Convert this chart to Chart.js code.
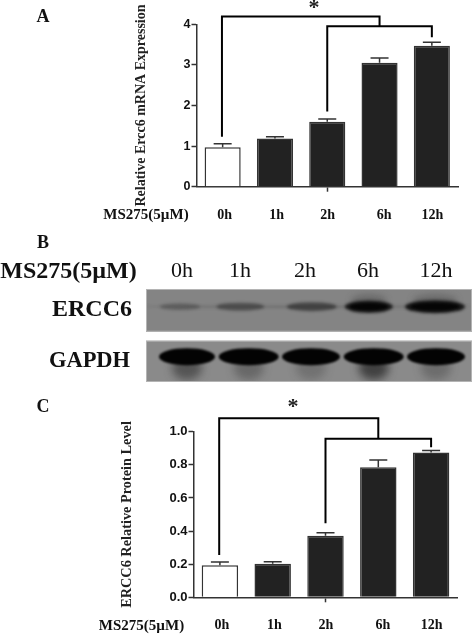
<!DOCTYPE html>
<html>
<head>
<meta charset="utf-8">
<script src="https://cdn.jsdelivr.net/npm/chart.js@4/dist/chart.umd.min.js"></script>
<style>
  html, body { margin: 0; padding: 0; background: #fff; overflow: hidden; }
  #page { position: relative; width: 472px; height: 635px; filter: blur(0.35px); }
  canvas { position: absolute; left: 0; }
  .t { position: absolute; transform: translate(-50%, -50%); white-space: nowrap;
       font-family: "Liberation Serif", serif; color: #111; line-height: 1; }
  .b { font-weight: bold; }
</style>
</head>
<body>
<div id="page">
  <canvas id="chartA" style="top:0"></canvas>
  <canvas id="blot" style="top:285px"></canvas>
  <canvas id="chartC" style="top:390px"></canvas>

  <div class="t b" style="left:43px;top:16px;font-size:18px">A</div>
  <div class="t b" style="left:43px;top:242px;font-size:18px">B</div>
  <div class="t b" style="left:43px;top:406px;font-size:18px">C</div>

  <div class="t b" style="left:68.5px;top:270px;font-size:24px">MS275(5µM)</div>
  <div class="t" style="left:182px;top:270px;font-size:22px">0h</div>
  <div class="t" style="left:240px;top:270px;font-size:22px">1h</div>
  <div class="t" style="left:305px;top:270px;font-size:22px">2h</div>
  <div class="t" style="left:368px;top:270px;font-size:22px">6h</div>
  <div class="t" style="left:436px;top:270px;font-size:22px">12h</div>
  <div class="t b" style="left:92px;top:308px;font-size:24px">ERCC6</div>
  <div class="t b" style="left:89.5px;top:360px;font-size:22.5px">GAPDH</div>
</div>

<script>
const hours = ['0h', '1h', '2h', '6h', '12h'];
const doseLabel = 'MS275(5µM)';

// panel A
const mrnaMean = [0.97, 1.19, 1.60, 3.05, 3.47];
const mrnaTop = [1.06, 1.23, 1.67, 3.17, 3.56];
const mrnaTicks = [0, 1, 2, 3, 4];

// panel C
const proteinMean = [0.193, 0.203, 0.372, 0.785, 0.875];
const proteinTop = [0.213, 0.215, 0.39, 0.829, 0.887];
const proteinTicks = [0, 0.2, 0.4, 0.6, 0.8, 1.0];

// panel B band strength per lane, 0..1
const erccBands = [0.3, 0.45, 0.55, 0.95, 1];
const gapdhBands = [1, 1, 1, 1, 1];
const gapdhSmear = [0.55, 0.35, 0.25, 0.75, 0.3];

const DARK = '#222';
const LINE = '#333';

// error caps, brackets, star and the hour labels under the axis
function panelPlugin(opts) {
  return {
    id: 'panel',
    afterDatasetsDraw(chart) {
      const { ctx, scales: { x, y } } = chart;
      ctx.save();

      // error bars (upper only)
      ctx.strokeStyle = LINE;
      ctx.lineWidth = 1.5;
      opts.tops.forEach((v, i) => {
        const px = x.getPixelForValue(i);
        ctx.beginPath();
        ctx.moveTo(px, y.getPixelForValue(opts.means[i]));
        ctx.lineTo(px, y.getPixelForValue(v));
        ctx.moveTo(px - 9, y.getPixelForValue(v));
        ctx.lineTo(px + 9, y.getPixelForValue(v));
        ctx.stroke();
      });

      // significance brackets
      ctx.strokeStyle = '#000';
      ctx.lineWidth = 2;
      const b = opts.bracket;
      const path = (i0, v0, top, i1, v1) => {
        ctx.beginPath();
        ctx.moveTo(x.getPixelForValue(i0) + (i0 === 0 ? -0.7 : 0), y.getPixelForValue(v0));
        ctx.lineTo(x.getPixelForValue(i0) + (i0 === 0 ? -0.7 : 0), y.getPixelForValue(top));
        ctx.lineTo(x.getPixelForValue(i1), y.getPixelForValue(top));
        ctx.lineTo(x.getPixelForValue(i1), y.getPixelForValue(v1));
        ctx.stroke();
      };
      path(0, b.foot0, b.outer, 3, b.inner);
      path(2, b.foot2, b.inner, 4, b.foot4);

      ctx.fillStyle = '#222';
      ctx.textAlign = 'center';
      ctx.textBaseline = 'middle';
      ctx.font = 'bold 22px "Liberation Serif"';
      ctx.fillText('*', opts.starX, opts.starY);

      // hour labels, the 6h one sits a bit right of its bar in the original
      const nudge = [2, 1.7, 0.5, 4.6, 0.5];
      ctx.fillStyle = '#111';
      ctx.font = 'bold 14px "Liberation Serif"';
      hours.forEach((h, i) => ctx.fillText(h, x.getPixelForValue(i) + nudge[i], opts.labelY));
      ctx.font = 'bold 15px "Liberation Serif"';
      ctx.fillText(doseLabel, opts.doseX, opts.labelY);
      ctx.restore();
    }
  };
}

function barChart(id, h, opts) {
  const el = document.getElementById(id);
  el.style.width = '472px';
  el.style.height = h + 'px';
  el.width = 472;
  el.height = h;
  return new Chart(el, {
    type: 'bar',
    data: {
      labels: hours,
      datasets: [{
        data: opts.means,
        backgroundColor: ['#fff', DARK, DARK, DARK, DARK],
        borderColor: LINE,
        borderWidth: 1.5,
        barPercentage: 0.69,
        categoryPercentage: 1
      }]
    },
    options: {
      responsive: false,
      animation: false,
      devicePixelRatio: 1,
      layout: { padding: { top: opts.top, right: opts.right, bottom: opts.bottom, left: 0 } },
      plugins: { legend: { display: false }, tooltip: { enabled: false } },
      scales: {
        x: {
          grid: {
            display: true, drawOnChartArea: false, tickLength: 5, offset: false,
            tickColor: c => (c.index === 2 ? LINE : 'transparent'),
            tickWidth: 1.5
          },
          border: { color: LINE, width: 1.5 },
          ticks: { display: false },
          afterFit(s) { s.height = 5; }
        },
        y: {
          min: 0,
          max: opts.ticks[opts.ticks.length - 1],
          afterBuildTicks(s) { s.ticks = opts.ticks.map(v => ({ value: v })); },
          grid: { drawOnChartArea: false, tickLength: 5, tickColor: LINE, tickWidth: 1.5 },
          border: { color: LINE, width: 1.5 },
          ticks: {
            color: '#111',
            padding: 1,
            font: { family: '"Liberation Sans"', weight: 'bold', size: opts.tickSize },
            callback: opts.fmt
          },
          title: {
            display: true,
            text: opts.title,
            color: '#222',
            padding: { top: opts.titlePad, bottom: 0 },
            font: { family: '"Liberation Serif"', weight: 'bold', size: opts.titleSize }
          },
          afterFit(s) { s.width = opts.axisW; }
        }
      }
    },
    plugins: [panelPlugin(opts)]
  });
}

barChart('chartA', 235, {
  means: mrnaMean, tops: mrnaTop, ticks: mrnaTicks,
  top: 24.3, right: 14, bottom: 43.3, axisW: 196.5,
  tickSize: 12.5, title: 'Relative Ercc6 mRNA Expression', titlePad: 133, titleSize: 14,
  fmt: v => String(v),
  bracket: { outer: 4.19, inner: 3.95, foot0: 1.23, foot2: 1.85, foot4: 3.68 },
  starX: 314, starY: 8, labelY: 215, doseX: 146
});

barChart('chartC', 245, {
  means: proteinMean, tops: proteinTop, ticks: proteinTicks,
  top: 41.7, right: 14.5, bottom: 32.7, axisW: 193.5,
  tickSize: 13, title: 'ERCC6 Relative Protein Level', titlePad: 119, titleSize: 14.3,
  fmt: v => v.toFixed(1),
  bracket: { outer: 1.081, inner: 0.958, foot0: 0.255, foot2: 0.447, foot4: 0.906 },
  starX: 293, starY: 17, labelY: 235.7, doseX: 141.5
});

// western blot strips, drawn on hidden axes so the lanes come from the category scale
const blotPlugin = {
  id: 'blotStrips',
  beforeDraw(chart) {
    const { ctx, scales: { x } } = chart;
    const blob = (cx, cy, rx, ry, blur, color) => {
      ctx.filter = 'blur(' + blur + 'px)';
      ctx.fillStyle = color;
      ctx.beginPath();
      ctx.ellipse(cx, cy, rx, ry, 0, 0, Math.PI * 2);
      ctx.fill();
    };
    const frame = (top, h, fill) => {
      ctx.fillStyle = fill;
      ctx.fillRect(146, top, 326, h);
      ctx.strokeStyle = '#b4b4b4';
      ctx.lineWidth = 1;
      ctx.strokeRect(146.5, top + 0.5, 325, h - 1);
      ctx.beginPath();
      ctx.rect(147, top + 1, 324, h - 2);
      ctx.clip();
    };

    // ERCC6
    ctx.save();
    frame(4, 42.7, '#848484');
    const erccShift = [-1.4, -4, 4.7, -1, 2.4];
    const erccW = [20, 24, 25, 24, 30];
    blob(308, 21.7, 165, 1, 1.5, 'rgba(60,60,60,0.35)');
    erccBands.forEach((s, i) => {
      const cx = x.getPixelForValue(i) + erccShift[i];
      if (s > 0.9) blob(cx, 16, erccW[i] * 0.75, 7, 3, 'rgba(60,60,60,0.35)');
      blob(cx, 21.7, erccW[i], 2 + s * 4.5, 1.6, 'rgba(5,5,5,' + s * 0.85 + ')');
      if (s > 0.9) blob(cx, 21.7, erccW[i] * 0.8, 3.5, 1, '#050505');
    });
    ctx.restore();

    // GAPDH
    ctx.save();
    frame(55.7, 41.3, '#8a8a8a');
    const gapdhShift = [5.6, 4.5, 4, 3.9, 3.4];
    const gapdhW = [28, 30, 29, 30, 29];
    gapdhBands.forEach((s, i) => {
      const cx = x.getPixelForValue(i) + gapdhShift[i];
      blob(cx, 83, 15, 12, 4, 'rgba(40,40,40,' + gapdhSmear[i] + ')');
      blob(cx, 71.7, gapdhW[i], 8.5, 1.3, 'rgba(3,3,3,' + s + ')');
    });
    ctx.restore();
  }
};

const blotEl = document.getElementById('blot');
blotEl.style.width = '472px';
blotEl.style.height = '100px';
blotEl.width = 472;
blotEl.height = 100;
new Chart(blotEl, {
  type: 'bar',
  data: { labels: hours, datasets: [{ data: erccBands, backgroundColor: 'transparent' }] },
  options: {
    responsive: false,
    animation: false,
    devicePixelRatio: 1,
    layout: { padding: { left: 150, right: 8, top: 0, bottom: 0 } },
    plugins: { legend: { display: false }, tooltip: { enabled: false } },
    scales: { x: { display: false }, y: { display: false, min: 0, max: 1 } }
  },
  plugins: [blotPlugin]
});
</script>
</body>
</html>
